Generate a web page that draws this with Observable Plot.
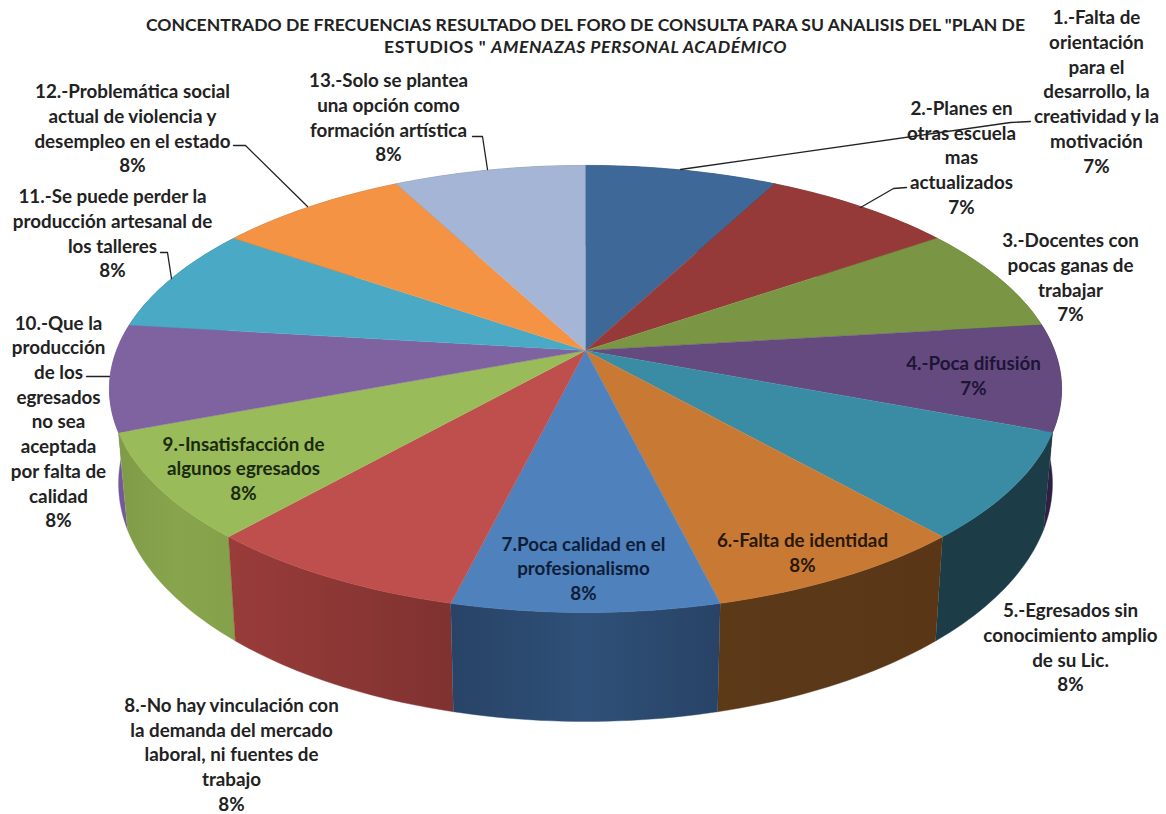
<!DOCTYPE html>
<html lang="es">
<head>
<meta charset="utf-8">
<script src="https://cdn.jsdelivr.net/npm/d3@7"></script>
<script src="https://cdn.jsdelivr.net/npm/@observablehq/plot@0.6"></script>
<style>
  html, body { margin: 0; padding: 0; background: #fff; }
  #wrap { position: relative; width: 1166px; height: 814px; overflow: hidden; }
  #title { position: absolute; left: 0; top: 14px; width: 1171px; text-align: center; font: 700 17.55px/22px Lato, sans-serif; color: #222; z-index: 2; }
  #title span { letter-spacing: 0.55px; }
  #chart svg { display: block; }
</style>
</head>
<body>
<div id="wrap">
  <div id="title">CONCENTRADO DE FRECUENCIAS RESULTADO DEL FORO DE CONSULTA PARA SU ANALISIS DEL "PLAN DE<br><span>ESTUDIOS " <i>AMENAZAS PERSONAL ACADÉMICO</i></span></div>
  <div id="chart"></div>
</div>
<script>
// ---- data ----
const shares = [7.69, 7.69, 7.69, 7.69, 7.69, 7.69, 7.69, 7.69, 7.69, 7.69, 7.69, 7.69, 7.69];
const percentLabels = ["7%", "7%", "7%", "7%", "8%", "8%", "8%", "8%", "8%", "8%", "8%", "8%", "8%"];
const categories = [
  "1.-Falta de\norientación\npara el\ndesarrollo, la\ncreatividad y la\nmotivación",
  "2.-Planes en\notras escuela\nmas\nactualizados",
  "3.-Docentes con\npocas ganas de\ntrabajar",
  "4.-Poca difusión",
  "5.-Egresados sin\nconocimiento amplio\nde su Lic.",
  "6.-Falta de identidad",
  "7.Poca calidad en el\nprofesionalismo",
  "8.-No hay vinculación con\nla demanda del mercado\nlaboral, ni fuentes de\ntrabajo",
  "9.-Insatisfacción de\nalgunos egresados",
  "10.-Que la\nproducción\nde los\negresados\nno sea\naceptada\npor falta de\ncalidad",
  "11.-Se puede perder la\nproducción artesanal de\nlos talleres",
  "12.-Problemática social\nactual de violencia y\ndesempleo en el estado",
  "13.-Solo se plantea\nuna opción como\nformación artística"
];

// ---- styles ----
const topColors = ["#3d6897", "#953a38", "#7a9544", "#654a80", "#3a8ca4", "#c87a35", "#4f81bd", "#bf4f4c", "#9abb59", "#7f63a1", "#4aaac5", "#f59344", "#a5b5d5"];
const wallLeft  = ["#2a4666", "#652725", "#52652e", "#2e2040", "#1c3d47", "#5c3a18", "#284366", "#993c3a", "#7f9b47", "#75589c", "#2f6c7d", "#9c5e2b", "#707a90"];
const wallMid   = ["#2a4666", "#652725", "#52652e", "#2e2040", "#1c3d47", "#5a3818", "#2f5078", "#8c3735", "#88a54d", "#75589c", "#2f6c7d", "#9c5e2b", "#707a90"];
const wallRight = ["#2a4666", "#652725", "#52652e", "#2e2040", "#1c3d47", "#5a3616", "#284366", "#7f3230", "#85a04a", "#75589c", "#2f6c7d", "#9c5e2b", "#707a90"];
const labelColors = ["#222", "#222", "#222", "#1e1436", "#222", "#2a1806", "#0e1e38", "#222", "#1a2a10", "#222", "#222", "#222", "#222"];

// ---- layout (pixel space of the picture) ----
const labelX = [1096, 961, 1070, 973, 1070, 802, 583, 231, 243, 58, 112, 132, 388];
const labelY = [90, 156, 276, 374, 646, 551, 567, 753, 467, 420, 232, 127, 116];
const leaders = [
  [[680, 169], [1010, 122], [1030, 121]],
  [[860, 207], [893, 188], [906, 187]],
  [[86, 376], [109, 376]],
  [[160, 252], [167, 252], [171, 278]],
  [[233, 145], [245, 145], [307, 206]],
  [[472, 136], [482, 136], [487, 169]]
];
const W = 1166, H = 814;
const rim = {cx: 585, cy: 350, A: 469, B: 216.9, k: 0.172};
const base = {cx: 585, cy: 442, A: 460, B: 231, k: 0.172};

// perspective projection of a circle: fraction of the pie -> picture position
function project(c, frac) {
  const t = frac * 2 * Math.PI, u = Math.sin(t), v = Math.cos(t), d = 1 + c.k * v;
  return [c.cx + c.A * u / d, c.cy - c.B * v / d];
}
const total = d3.sum(shares);
const edges = [0, ...d3.cumsum(shares).map(s => s / total)];
const arc = (c, i) => d3.range(0, 25).map(j => project(c, edges[i] + (edges[i + 1] - edges[i]) * j / 24));

const topFaces = shares.map((_, i) => [[rim.cx, rim.cy], ...arc(rim, i)]);
const walls = shares.map((_, i) => [...arc(rim, i), ...arc(base, i).reverse()]);
const depthOrder = d3.range(shares.length).sort((a, b) =>
  Math.cos((edges[b] + edges[b + 1]) * Math.PI) - Math.cos((edges[a] + edges[a + 1]) * Math.PI));

const labels = categories.map((c, i) => ({text: c + "\n" + percentLabels[i], x: labelX[i], y: labelY[i], color: labelColors[i]}));

const poly = (pts, o) => Plot.line(pts, {x: d => d[0], y: d => d[1], ...o});

const chart = Plot.plot({
  width: W, height: H, margin: 0,
  x: {domain: [0, W], range: [0, W], axis: null},
  y: {domain: [0, H], range: [0, H], axis: null},
  style: {background: "transparent"},
  marks: [
    ...depthOrder.map(i => poly(walls[i], {fill: `url(#wall${i})`, stroke: wallMid[i], strokeWidth: 0.4})),
    ...topFaces.map((f, i) => poly(f, {fill: topColors[i], stroke: topColors[i], strokeWidth: 0.5})),
    ...leaders.map(l => poly(l, {stroke: "#222", strokeWidth: 1.3, fill: "none"})),
    Plot.text(labels, {
      x: "x", y: "y", text: "text", fill: "color",
      fontFamily: "Lato, sans-serif", fontWeight: 700, fontSize: 18.8,
      lineHeight: 1.314, lineAnchor: "middle", textAnchor: "middle"
    })
  ]
});
const defs = d3.select(chart).insert("defs", ":first-child");
shares.forEach((_, i) => {
  const g = defs.append("linearGradient").attr("id", `wall${i}`).attr("x1", 0).attr("x2", 1).attr("y1", 0).attr("y2", 0);
  [[0, wallLeft[i]], [0.5, wallMid[i]], [1, wallRight[i]]].forEach(([o, c]) =>
    g.append("stop").attr("offset", o).attr("stop-color", c));
});
document.getElementById("chart").append(chart);
</script>
</body>
</html>
